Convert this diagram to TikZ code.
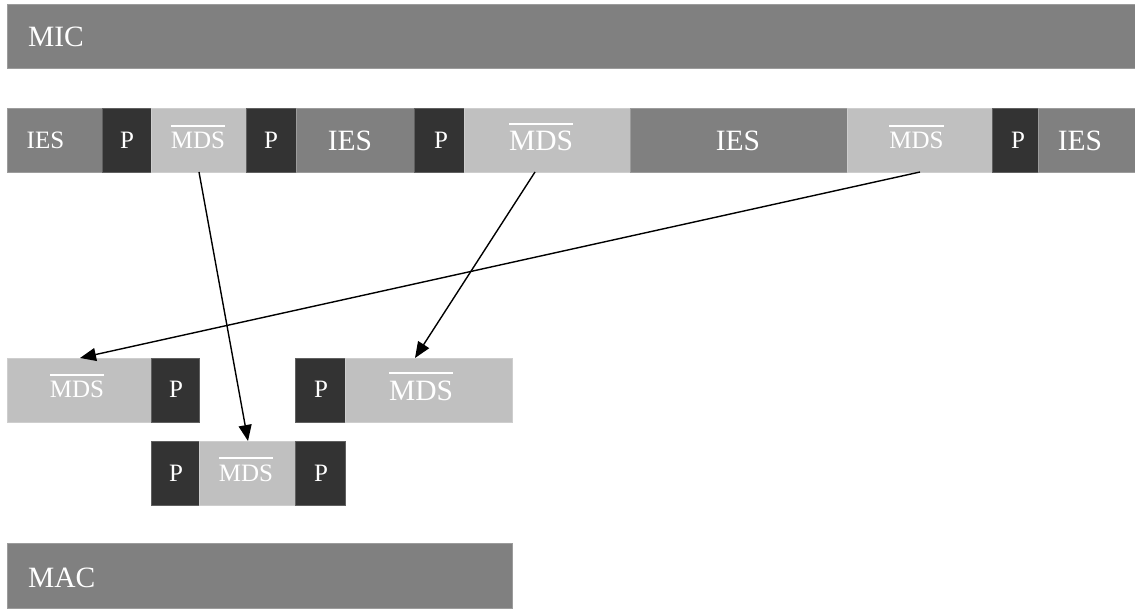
\documentclass[tikz,border=0pt]{standalone}
\usepackage{fontspec}
\setmainfont{Liberation Serif}
\usetikzlibrary{arrows.meta}
\definecolor{cdark}{HTML}{333333}
\definecolor{cmid}{HTML}{808080}
\definecolor{clight}{HTML}{C0C0C0}
\newcommand\ovl[1]{\setbox0\hbox{#1}\rlap{\rule[\dimexpr\ht0+0.22em\relax]{\wd0}{0.065em}}\box0}
\tikzset{
  seg/.style={rectangle, anchor=north west, inner sep=0pt, outer sep=0pt,
    fill=#1, draw=#1!78!white, line width=0.7pt},
  rowa/.style={minimum height=64pt},
  lbl/.style={anchor=base, inner sep=0pt, text=white},
  small/.style={lbl, font=\fontsize{25}{25}\selectfont},
  big/.style={lbl, font=\fontsize{29.5}{29.5}\selectfont},
  arr/.style={line width=1.4pt, -{Triangle[length=16pt,width=13pt]}}
}
\begin{document}
\begin{tikzpicture}[x=1pt,y=-1pt]
\useasboundingbox (0,0) rectangle (1135,609);
% MIC bar
\node[seg=cmid, minimum width=1140pt, minimum height=64pt] (mic) at (7,4) {};
\node[big, anchor=base west] (micl) at (28,47) {MIC};
% row 2
\node[seg=cmid,   rowa, minimum width=95pt]  (ies1) at (7,108) {};
\node[seg=cdark,  rowa, minimum width=49pt]  (p1)   at (102,108) {};
\node[seg=clight, rowa, minimum width=95pt]  (mds1) at (151,108) {};
\node[seg=cdark,  rowa, minimum width=50pt]  (p2)   at (246,108) {};
\node[seg=cmid,   rowa, minimum width=118pt] (ies2) at (296,108) {};
\node[seg=cdark,  rowa, minimum width=50pt]  (p3)   at (414,108) {};
\node[seg=clight, rowa, minimum width=166pt] (mds2) at (464,108) {};
\node[seg=cmid,   rowa, minimum width=217pt] (ies3) at (630,108) {};
\node[seg=clight, rowa, minimum width=145pt] (mds3) at (847,108) {};
\node[seg=cdark,  rowa, minimum width=46pt]  (p4)   at (992,108) {};
\node[seg=cmid,   rowa, minimum width=105pt] (ies4) at (1038,108) {};
\node[small] (ies1l) at (45.5,149) {IES};
\node[small] (p1l)   at (127,149) {P};
\node[small] (mds1l) at (198,149) {\ovl{MDS}};
\node[small] (p2l)   at (271,149) {P};
\node[big]   (ies2l) at (350,151) {IES};
\node[small] (p3l)   at (441,149) {P};
\node[big]   (mds2l) at (541,151) {\ovl{MDS}};
\node[big]   (ies3l) at (738,151) {IES};
\node[small] (mds3l) at (916.5,149) {\ovl{MDS}};
\node[small] (p4l)   at (1018,149) {P};
\node[big]   (ies4l) at (1080,151) {IES};
% row 3
\node[seg=clight, rowa, minimum width=144pt] (mda) at (7,358) {};
\node[seg=cdark,  rowa, minimum width=48pt]  (pa)  at (151,358) {};
\node[seg=cdark,  rowa, minimum width=50pt]  (pb)  at (295,358) {};
\node[seg=clight, rowa, minimum width=167pt] (mdb) at (345,358) {};
\node[small] (mdal) at (77,398) {\ovl{MDS}};
\node[small] (pal)  at (176,398) {P};
\node[small] (pbl)  at (321,398) {P};
\node[big]   (mdbl) at (421,400) {\ovl{MDS}};
% row 4
\node[seg=cdark,  rowa, minimum width=48pt] (pc)  at (151,441) {};
\node[seg=clight, rowa, minimum width=96pt] (mdc) at (199,441) {};
\node[seg=cdark,  rowa, minimum width=50pt] (pd)  at (295,441) {};
\node[small] (pcl)  at (176,481) {P};
\node[small] (mdcl) at (246,481) {\ovl{MDS}};
\node[small] (pdl)  at (321,481) {P};
% MAC bar
\node[seg=cmid, minimum width=505pt, minimum height=65pt] (mac) at (7,543) {};
\node[big, anchor=base west] (macl) at (28,587) {MAC};
% arrows
\draw[arr] ([xshift=0.5pt]mds1.south) -- ([xshift=1pt]mdc.north);
\draw[arr] ([xshift=-12pt]mds2.south) -- ([xshift=-13.5pt]mdb.north);
\draw[arr] ([xshift=0.5pt]mds3.south) -- ([xshift=1pt]mda.north);
\end{tikzpicture}
\end{document}
